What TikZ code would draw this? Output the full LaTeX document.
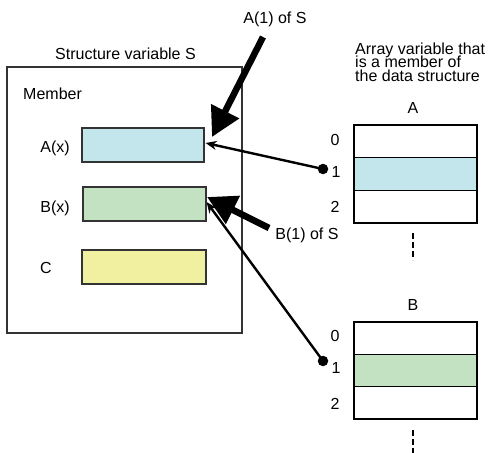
\documentclass[tikz,border=0pt]{standalone}
\usepackage{fontspec}
\setmainfont{Liberation Sans}
\usetikzlibrary{arrows.meta,calc}
\definecolor{cblue}{HTML}{C2E6EB}
\definecolor{cgreen}{HTML}{C3E2C2}
\definecolor{cyellow}{HTML}{F0F0A0}
\definecolor{edge}{HTML}{333333}
\begin{document}
\begin{tikzpicture}[x=1pt,y=-1pt,
  lbl/.style={inner sep=0pt,font=\fontsize{16}{13.5}\selectfont},
  member/.style={draw=edge,line width=1.2pt,minimum width=122pt,minimum height=34pt,inner sep=0pt},
  cell/.style={draw=black,line width=1.2pt,minimum width=123pt,inner sep=0pt},
  dotnode/.style={circle,fill=black,inner sep=0pt,minimum size=10.5pt},
  thinarrow/.style={line width=2.4pt,-{Stealth[length=11pt,width=9pt]}},
  thickarrow/.style={line width=6.5pt,-{Triangle[length=29pt,width=30pt]}},
  dashline/.style={line width=2.5pt,dash pattern=on 6pt off 3pt}]
\useasboundingbox (0,0) rectangle (488,453);
% structure box
\node[draw=edge,line width=1.2pt,minimum width=235pt,minimum height=266pt,inner sep=0pt] (sbox) at (124.5,200) {};
\node[lbl] (stitle) at (125.5,54) {Structure variable S};
\node[lbl,anchor=west] (mem) at (23,94) {Member};
\node[lbl] (lax) at (55,148) {A(x)};
\node[lbl] (lbx) at (55,208) {B(x)};
\node[lbl] (lc) at (46,268) {C};
\node[member,fill=cblue] (ra) at (143,145) {};
\node[member,fill=cgreen,minimum width=123pt] (rb) at (144.5,204) {};
\node[member,fill=cyellow,minimum width=124pt] (rc) at (144,267) {};
% array text
\node[lbl,anchor=base west] (at1) at (355,54) {Array variable that};
\node[lbl,anchor=base west] (at2) at (355,67.5) {is a member of};
\node[lbl,anchor=base west] (at3) at (355,81) {the data structure};
% array A
\node[lbl] (ta) at (413,108) {A};
\node[cell,minimum height=32.7pt] (a0) at (415.5,141.3) {};
\node[cell,minimum height=32.7pt,fill=cblue] (a1) at (415.5,174) {};
\node[cell,minimum height=32.7pt] (a2) at (415.5,206.7) {};
\node[lbl] (ia0) at (335,140) {0};
\node[lbl] (ia1) at (336,172) {1};
\node[lbl] (ia2) at (335,207) {2};
\node[dotnode] (da) at (323,169) {};
\coordinate (da0) at (413,233);
\coordinate (da1) at (413,260);
\draw[dashline] (da0) -- (da1);
% array B
\node[lbl] (tb) at (413,305) {B};
\node[cell,minimum height=32.4pt] (b0) at (415.5,338.2) {};
\node[cell,minimum height=32.4pt,fill=cgreen] (b1) at (415.5,370.5) {};
\node[cell,minimum height=32.4pt] (b2) at (415.5,402.8) {};
\node[lbl] (ib0) at (335,336) {0};
\node[lbl] (ib1) at (336,368) {1};
\node[lbl] (ib2) at (335,404) {2};
\node[dotnode] (db) at (323,361) {};
\coordinate (db0) at (413,430);
\coordinate (db1) at (413,456);
\draw[dashline] (db0) -- (db1);
% thin arrows
\draw[thinarrow] (da.center) -- ($(ra.east)+(1,-2)$);
\draw[thinarrow] (db.center) -- ($(rb.east)+(0,-2)$);
% thick arrows
\node[lbl] (la1) at (275,19) {A(1) of S};
\coordinate (a1s) at (263,37);
\coordinate (a1t) at (212,137);
\draw[thickarrow] (a1s) -- (a1t);
\node[lbl] (lb1) at (307,235) {B(1) of S};
\coordinate (b1s) at (269,228);
\coordinate (b1t) at (207,197);
\draw[thickarrow] (b1s) -- (b1t);
\end{tikzpicture}
\end{document}
